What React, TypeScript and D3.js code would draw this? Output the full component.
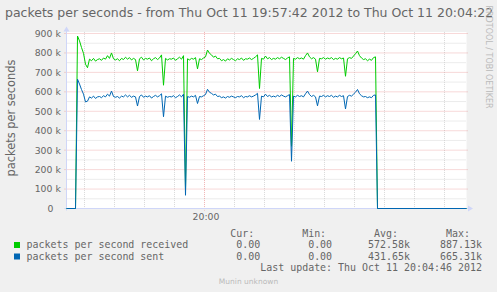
import React from "react";
import * as d3 from "d3";

// ---------------- DATA ----------------
const TITLE = "packets per seconds - from Thu Oct 11 19:57:42 2012 to Thu Oct 11 20:04:22 2012";
const Y_LABEL = "packets per seconds";
const WINDOW_SECONDS = 400; // 19:57:42 .. 20:04:22
const FIRST_SAMPLE = 9; // seconds after window start
const SAMPLE_STEP = 2; // seconds between samples
const Y_MAX = 900; // k
const Y_CEILING = 908; // k, top of canvas

// packets per second received (k)
const received = [
  0, 887, 862, 828, 798, 742, 724, 768, 760, 772,
  758, 766, 770, 762, 774, 768, 786, 772, 800, 770,
  764, 770, 760, 772, 766, 778, 768, 776, 764, 772,
  766, 708, 770, 778, 764, 772, 768, 774, 760, 770,
  776, 766, 774, 790, 634, 772, 764, 770, 768, 774,
  762, 770, 778, 768, 786, 95, 770, 764, 772, 768,
  776, 718, 770, 766, 774, 780, 815, 798, 790, 778,
  784, 770, 772, 760, 766, 758, 770, 764, 772, 766,
  760, 770, 766, 774, 762, 770, 768, 774, 766, 772,
  780, 790, 617, 772, 768, 784, 770, 776, 766, 772,
  768, 776, 770, 778, 772, 766, 774, 780, 320, 772,
  768, 776, 770, 774, 768, 786, 800, 780, 770, 776,
  768, 703, 772, 770, 776, 768, 774, 770, 776, 766,
  772, 768, 776, 770, 774, 680, 770, 776, 772, 784,
  796, 810, 786, 774, 766, 770, 760, 768, 762, 776,
  780, 0,
];

// packets per second sent (k)
const sent = [
  0, 665, 640, 612, 588, 548, 552, 574, 568, 578,
  566, 574, 576, 570, 580, 574, 588, 578, 604, 576,
  572, 576, 568, 578, 574, 584, 574, 582, 572, 578,
  574, 527, 576, 584, 572, 578, 574, 580, 568, 576,
  582, 574, 580, 590, 472, 578, 572, 576, 574, 580,
  570, 576, 584, 574, 588, 68, 576, 572, 578, 574,
  582, 540, 576, 574, 580, 586, 613, 598, 592, 584,
  588, 576, 578, 570, 574, 568, 576, 572, 578, 574,
  570, 576, 574, 580, 570, 576, 574, 580, 574, 578,
  584, 592, 458, 578, 574, 588, 576, 582, 574, 578,
  574, 582, 576, 584, 578, 574, 580, 586, 243, 578,
  574, 582, 576, 580, 574, 590, 604, 586, 576, 582,
  574, 528, 578, 576, 582, 574, 580, 576, 582, 572,
  578, 574, 582, 576, 580, 512, 576, 582, 578, 588,
  598, 612, 590, 580, 574, 576, 570, 574, 570, 582,
  584, 0,
];

const yMajorValues = [100, 200, 300, 400, 500, 600, 700, 800, 900];
const yMinorValues = [50, 150, 250, 350, 450, 550, 650, 750, 850];
const yTickValues = [0, 100, 200, 300, 400, 500, 600, 700, 800, 900];
const yTickNumbers = ["0", "100", "200", "300", "400", "500", "600", "700", "800", "900"];
const yTickUnits = ["", "k", "k", "k", "k", "k", "k", "k", "k", "k"];

const xMinorSeconds = [18, 48, 78, 108, 138, 168, 198, 228, 258, 288, 318, 348, 378];
const xMajorSeconds = [138];
const xTickLabels = ["20:00"];

const legendNames = ["packets per second received", "packets per second sent"];
const legendColors = ["#00CC00", "#0066B3"];
const legendHeaders = ["Cur:", "Min:", "Avg:", "Max:"];
const legendCur = ["0.00", "0.00"];
const legendMin = ["0.00", "0.00"];
const legendAvg = ["572.58k", "431.65k"];
const legendMax = ["887.13k", "665.31k"];
const LAST_UPDATE = "Last update: Thu Oct 11 20:04:46 2012";
const WATERMARK = "Munin unknown";
const VENDOR = "RRDTOOL / TOBI OETIKER";

// ---------------- CHART ----------------
const SANS = "'DejaVu Sans', 'Liberation Sans', sans-serif";
const MONO = "'DejaVu Sans Mono', 'Liberation Mono', monospace";
const FONT_COLOR = "#666666";
const AXIS_COLOR = "#CFD6F8";
const GRID_COLOR = "rgba(204,204,204,0.75)";
const MGRID_COLOR = "rgba(230,128,128,0.6)";

export default function App() {
  const W = 497;
  const H = 292;
  const x = d3.scaleLinear().domain([0, WINDOW_SECONDS]).range([66.5, 466.5]);
  const y = d3.scaleLinear().domain([0, Y_MAX]).range([208.5, 33.5]);
  const top = y(Y_CEILING);
  const x0 = x(0);
  const x1 = x(WINDOW_SECONDS);
  const y0 = y(0);

  const toPoints = (vals: number[]): [number, number][] => [
    [0, 0],
    ...vals.map((v, i) => [FIRST_SAMPLE + i * SAMPLE_STEP, v] as [number, number]),
    [WINDOW_SECONDS, 0],
  ];
  const line = d3
    .line<[number, number]>()
    .x((d) => x(d[0]))
    .y((d) => y(d[1]));

  const series = [received, sent];

  const legendX = 26.5;
  const legendFont = 9.96;
  const header =
    legendHeaders[0].padStart(38) +
    legendHeaders[1].padStart(12) +
    legendHeaders[2].padStart(12) +
    legendHeaders[3].padStart(12);
  const rows = legendNames.map(
    (n, i) =>
      n.padEnd(31) +
      legendCur[i].padStart(8) +
      legendMin[i].padStart(12) +
      legendAvg[i].padStart(13) +
      legendMax[i].padStart(12)
  );
  const rowBaselines = [248, 259.5];

  return (
    <svg
      width={W}
      height={H}
      viewBox={`0 0 ${W} ${H}`}
      style={{ position: "absolute", left: 0, top: 0, display: "block" }}
    >
      <rect x={0} y={0} width={W} height={H} fill="#F0F0F0" />
      <rect x={x0} y={top} width={x1 - x0} height={y0 - top} fill="#FFFFFF" />

      {/* minor grid */}
      {yMinorValues.map((v) => (
        <line key={"ym" + v} x1={x0} x2={x1} y1={y(v)} y2={y(v)} stroke={GRID_COLOR} strokeDasharray="1,1" />
      ))}
      {xMinorSeconds
        .filter((s) => !xMajorSeconds.includes(s))
        .map((s) => (
          <line key={"xm" + s} x1={x(s)} x2={x(s)} y1={top} y2={y0} stroke={GRID_COLOR} strokeDasharray="1,1" />
        ))}
      {/* major grid */}
      {yMajorValues.map((v) => (
        <line key={"yM" + v} x1={x0 - 2} x2={x1 + 2} y1={y(v)} y2={y(v)} stroke={MGRID_COLOR} strokeDasharray="1,1" />
      ))}
      {xMajorSeconds.map((s) => (
        <line key={"xM" + s} x1={x(s)} x2={x(s)} y1={top} y2={y0 + 2} stroke={MGRID_COLOR} strokeDasharray="1,1" />
      ))}

      {/* axes */}
      <line x1={x0 - 2} x2={x1 + 2} y1={y0} y2={y0} stroke={AXIS_COLOR} />
      <line x1={x0} x2={x0} y1={y0 + 2} y2={top - 1} stroke={AXIS_COLOR} />
      <polygon
        points={`${x1 + 1.5},${y0 - 3} ${x1 + 1.5},${y0 + 3} ${x1 + 6.5},${y0}`}
        fill={AXIS_COLOR}
      />
      <polygon
        points={`${x0 - 3},${top - 0.5} ${x0 + 3},${top - 0.5} ${x0},${top - 5.5}`}
        fill={AXIS_COLOR}
      />

      {/* series */}
      {series.map((vals, i) => (
        <path key={"s" + i} d={line(toPoints(vals)) || ""} fill="none" stroke={legendColors[i]} strokeWidth={1} />
      ))}

      {/* y tick labels */}
      {yTickValues.map((v, i) => (
        <text
          key={"yt" + v}
          x={yTickUnits[i] ? 60.8 : 53.4}
          y={y(v) + 3.4}
          textAnchor="end"
          fontFamily={SANS}
          fontSize={9.3}
          fill={FONT_COLOR}
        >
          {yTickUnits[i] ? `${yTickNumbers[i]} ${yTickUnits[i]}` : yTickNumbers[i]}
        </text>
      ))}
      {/* x tick labels */}
      {xMajorSeconds.map((s, i) => (
        <text
          key={"xt" + s}
          x={x(s) + 1.5}
          y={219.5}
          textAnchor="middle"
          fontFamily={SANS}
          fontSize={9.3}
          fill={FONT_COLOR}
        >
          {xTickLabels[i]}
        </text>
      ))}

      {/* title */}
      <text x={5} y={17} fontFamily={SANS} fontSize={12.5} fill={FONT_COLOR}>
        {TITLE}
      </text>
      {/* y label */}
      <text
        transform={`translate(15,118) rotate(-90)`}
        textAnchor="middle"
        fontFamily={SANS}
        fontSize={11.4}
        fill={FONT_COLOR}
      >
        {Y_LABEL}
      </text>
      {/* vendor */}
      <text
        transform={`translate(486,5.5) rotate(90)`}
        fontFamily={SANS}
        fontSize={8}
        fill="#BBBBBB"
      >
        {VENDOR}
      </text>

      {/* legend */}
      <text x={legendX} y={236.8} fontFamily={MONO} fontSize={legendFont} fill={FONT_COLOR} style={{ whiteSpace: "pre" }}>
        {header}
      </text>
      {rows.map((r, i) => (
        <g key={"lg" + i}>
          <rect x={14} y={rowBaselines[i] - 6} width={6} height={6} fill={legendColors[i]} />
          <text x={legendX} y={rowBaselines[i]} fontFamily={MONO} fontSize={legendFont} fill={FONT_COLOR} style={{ whiteSpace: "pre" }}>
            {r}
          </text>
        </g>
      ))}
      <text x={legendX} y={271} fontFamily={MONO} fontSize={legendFont} fill={FONT_COLOR} style={{ whiteSpace: "pre" }}>
        {LAST_UPDATE.padStart(76)}
      </text>
      <text x={W / 2} y={284} textAnchor="middle" fontFamily={SANS} fontSize={7.5} fill="#BBBBBB">
        {WATERMARK}
      </text>
    </svg>
  );
}
